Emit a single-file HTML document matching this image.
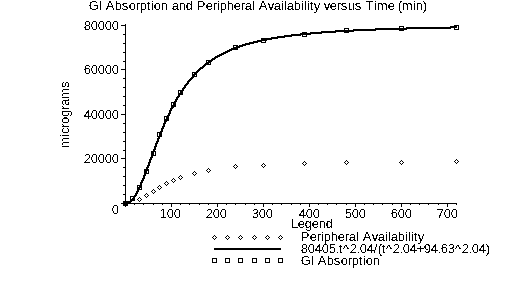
<!DOCTYPE html>
<html><head><meta charset="utf-8"><title>GI Absorption and Peripheral Availability versus Time (min)</title>
<style>
html,body{margin:0;padding:0;background:#fff;}
body{width:515px;height:285px;overflow:hidden;}
svg{display:block;}
</style></head><body>
<svg width="515" height="285" viewBox="0 0 515 285">
<defs><filter id="thr" x="0" y="0" width="515" height="285" filterUnits="userSpaceOnUse" color-interpolation-filters="sRGB"><feComponentTransfer><feFuncA type="discrete" tableValues="0 1"/></feComponentTransfer></filter></defs>
<rect width="515" height="285" fill="#fff"/>
<g fill="#000" shape-rendering="crispEdges">
<rect x="125" y="24" width="1" height="180"/>
<rect x="125" y="203" width="332" height="1"/>
<rect x="121" y="203" width="4" height="1"/>
<rect x="123" y="194" width="2" height="1"/>
<rect x="123" y="185" width="2" height="1"/>
<rect x="123" y="176" width="2" height="1"/>
<rect x="123" y="167" width="2" height="1"/>
<rect x="121" y="158" width="4" height="1"/>
<rect x="123" y="150" width="2" height="1"/>
<rect x="123" y="141" width="2" height="1"/>
<rect x="123" y="132" width="2" height="1"/>
<rect x="123" y="123" width="2" height="1"/>
<rect x="121" y="114" width="4" height="1"/>
<rect x="123" y="105" width="2" height="1"/>
<rect x="123" y="96" width="2" height="1"/>
<rect x="123" y="87" width="2" height="1"/>
<rect x="123" y="78" width="2" height="1"/>
<rect x="121" y="69" width="4" height="1"/>
<rect x="123" y="61" width="2" height="1"/>
<rect x="123" y="52" width="2" height="1"/>
<rect x="123" y="43" width="2" height="1"/>
<rect x="123" y="34" width="2" height="1"/>
<rect x="121" y="25" width="4" height="1"/>
<rect x="125" y="204" width="1" height="3"/>
<rect x="134" y="204" width="1" height="1"/>
<rect x="143" y="204" width="1" height="1"/>
<rect x="153" y="204" width="1" height="1"/>
<rect x="162" y="204" width="1" height="1"/>
<rect x="171" y="204" width="1" height="3"/>
<rect x="180" y="204" width="1" height="1"/>
<rect x="189" y="204" width="1" height="1"/>
<rect x="199" y="204" width="1" height="1"/>
<rect x="208" y="204" width="1" height="1"/>
<rect x="217" y="204" width="1" height="3"/>
<rect x="226" y="204" width="1" height="1"/>
<rect x="235" y="204" width="1" height="1"/>
<rect x="245" y="204" width="1" height="1"/>
<rect x="254" y="204" width="1" height="1"/>
<rect x="263" y="204" width="1" height="3"/>
<rect x="272" y="204" width="1" height="1"/>
<rect x="281" y="204" width="1" height="1"/>
<rect x="291" y="204" width="1" height="1"/>
<rect x="300" y="204" width="1" height="1"/>
<rect x="309" y="204" width="1" height="3"/>
<rect x="318" y="204" width="1" height="1"/>
<rect x="327" y="204" width="1" height="1"/>
<rect x="336" y="204" width="1" height="1"/>
<rect x="346" y="204" width="1" height="1"/>
<rect x="355" y="204" width="1" height="3"/>
<rect x="364" y="204" width="1" height="1"/>
<rect x="373" y="204" width="1" height="1"/>
<rect x="382" y="204" width="1" height="1"/>
<rect x="392" y="204" width="1" height="1"/>
<rect x="401" y="204" width="1" height="3"/>
<rect x="410" y="204" width="1" height="1"/>
<rect x="419" y="204" width="1" height="1"/>
<rect x="428" y="204" width="1" height="1"/>
<rect x="438" y="204" width="1" height="1"/>
<rect x="447" y="204" width="1" height="3"/>
<rect x="456" y="204" width="1" height="1"/>
</g>
<path fill="#000" shape-rendering="crispEdges" d="M450 26h7v1h-7zM406 27h51v1h-51zM375 28h76v1h-76zM353 29h54v1h-54zM335 30h41v1h-41zM321 31h33v1h-33zM310 32h26v1h-26zM300 33h22v1h-22zM291 34h20v1h-20zM284 35h17v1h-17zM277 36h15v1h-15zM271 37h14v1h-14zM266 38h12v1h-12zM261 39h11v1h-11zM257 40h10v1h-10zM253 41h9v1h-9zM249 42h9v1h-9zM245 43h9v1h-9zM242 44h8v1h-8zM239 45h7v1h-7zM236 46h7v1h-7zM234 47h6v1h-6zM231 48h6v1h-6zM229 49h6v1h-6zM227 50h5v1h-5zM225 51h5v1h-5zM223 52h5v1h-5zM221 53h5v1h-5zM219 54h5v1h-5zM217 55h5v1h-5zM215 56h5v1h-5zM214 57h4v1h-4zM212 58h4v1h-4zM211 59h4v1h-4zM209 60h4v1h-4zM208 61h4v1h-4zM206 62h4v1h-4zM205 63h4v1h-4zM204 64h3v1h-3zM203 65h3v1h-3zM202 66h3v1h-3zM200 67h4v1h-4zM199 68h4v1h-4zM198 69h3v1h-3zM197 70h3v1h-3zM196 71h3v1h-3zM195 72h3v1h-3zM194 73h3v1h-3zM193 74h3v1h-3zM192 75h3v1h-3zM192 76h2v1h-2zM191 77h3v1h-3zM190 78h3v1h-3zM189 79h3v1h-3zM188 80h3v1h-3zM187 81h3v1h-3zM187 82h2v1h-2zM186 83h3v1h-3zM185 84h3v1h-3zM184 85h3v1h-3zM184 86h2v1h-2zM183 87h3v1h-3zM182 88h3v1h-3zM182 89h2v1h-2zM181 90h3v1h-3zM180 91h3v1h-3zM180 92h2v1h-2zM179 93h3v1h-3zM178 94h3v1h-3zM178 95h2v1h-2zM177 96h3v1h-3zM176 97h3v1h-3zM176 98h2v1h-2zM175 99h3v1h-3zM175 100h2v1h-2zM174 101h3v1h-3zM174 102h2v1h-2zM173 103h3v1h-3zM173 104h2v1h-2zM172 105h3v1h-3zM172 106h2v1h-2zM171 107h3v1h-3zM170 108h3v1h-3zM170 109h2v1h-2zM169 110h3v1h-3zM169 111h2v1h-2zM169 112h2v1h-2zM168 113h3v1h-3zM168 114h2v1h-2zM167 115h3v1h-3zM167 116h2v1h-2zM166 117h3v1h-3zM166 118h2v1h-2zM165 119h3v1h-3zM165 120h2v1h-2zM164 121h3v1h-3zM164 122h2v1h-2zM163 123h3v1h-3zM163 124h2v1h-2zM163 125h2v1h-2zM162 126h3v1h-3zM162 127h2v1h-2zM161 128h3v1h-3zM161 129h2v1h-2zM161 130h2v1h-2zM160 131h3v1h-3zM160 132h2v1h-2zM159 133h3v1h-3zM159 134h2v1h-2zM159 135h2v1h-2zM158 136h3v1h-3zM158 137h2v1h-2zM157 138h3v1h-3zM157 139h2v1h-2zM157 140h2v1h-2zM156 141h3v1h-3zM156 142h2v1h-2zM155 143h3v1h-3zM155 144h2v1h-2zM155 145h2v1h-2zM154 146h3v1h-3zM154 147h2v1h-2zM154 148h2v1h-2zM153 149h3v1h-3zM153 150h2v1h-2zM152 151h3v1h-3zM152 152h2v1h-2zM152 153h2v1h-2zM151 154h3v1h-3zM151 155h2v1h-2zM151 156h2v1h-2zM150 157h3v1h-3zM150 158h2v1h-2zM149 159h3v1h-3zM149 160h2v1h-2zM149 161h2v1h-2zM148 162h3v1h-3zM148 163h2v1h-2zM148 164h2v1h-2zM147 165h3v1h-3zM147 166h2v1h-2zM146 167h3v1h-3zM146 168h2v1h-2zM146 169h2v1h-2zM145 170h3v1h-3zM145 171h2v1h-2zM145 172h2v1h-2zM144 173h3v1h-3zM144 174h2v1h-2zM143 175h3v1h-3zM143 176h2v1h-2zM143 177h2v1h-2zM142 178h3v1h-3zM142 179h2v1h-2zM141 180h3v1h-3zM141 181h2v1h-2zM140 182h3v1h-3zM140 183h2v1h-2zM140 184h2v1h-2zM139 185h3v1h-3zM139 186h2v1h-2zM138 187h3v1h-3zM138 188h2v1h-2zM137 189h3v1h-3zM137 190h2v1h-2zM136 191h3v1h-3zM136 192h2v1h-2zM135 193h3v1h-3zM135 194h2v1h-2zM134 195h3v1h-3zM133 196h3v1h-3zM133 197h2v1h-2zM132 198h3v1h-3zM131 199h3v1h-3zM130 200h3v1h-3zM128 201h4v1h-4zM125 202h6v1h-6zM125 203h4v1h-4zM125 204h1v1h-1z"/>
<g fill="none" stroke="#000" stroke-width="1">
<rect x="123.5" y="201.5" width="4" height="4"/>
<rect x="130.5" y="196.5" width="4" height="4"/>
<rect x="137.5" y="185.5" width="4" height="4"/>
<rect x="144.5" y="169.5" width="4" height="4"/>
<rect x="151.5" y="151.5" width="4" height="4"/>
<rect x="157.5" y="132.5" width="4" height="4"/>
<rect x="164.5" y="116.5" width="4" height="4"/>
<rect x="171.5" y="102.5" width="4" height="4"/>
<rect x="178.5" y="90.5" width="4" height="4"/>
<rect x="192.5" y="72.5" width="4" height="4"/>
<rect x="206.5" y="60.5" width="4" height="4"/>
<rect x="233.5" y="45.5" width="4" height="4"/>
<rect x="261.5" y="38.5" width="4" height="4"/>
<rect x="302.5" y="32.5" width="4" height="4"/>
<rect x="344.5" y="28.5" width="4" height="4"/>
<rect x="399.5" y="26.5" width="4" height="4"/>
<rect x="454.5" y="25.5" width="4" height="4"/>
<path stroke="none" fill="#000" shape-rendering="crispEdges" d="M125 201h1v1h-1zM124 202h1v1h-1zM126 202h1v1h-1zM123 203h1v1h-1zM127 203h1v1h-1zM124 204h1v1h-1zM126 204h1v1h-1zM125 205h1v1h-1z"/>
<path stroke="none" fill="#000" shape-rendering="crispEdges" d="M139 197h1v1h-1zM138 198h1v1h-1zM140 198h1v1h-1zM137 199h1v1h-1zM141 199h1v1h-1zM138 200h1v1h-1zM140 200h1v1h-1zM139 201h1v1h-1z"/>
<path stroke="none" fill="#000" shape-rendering="crispEdges" d="M146 193h1v1h-1zM145 194h1v1h-1zM147 194h1v1h-1zM144 195h1v1h-1zM148 195h1v1h-1zM145 196h1v1h-1zM147 196h1v1h-1zM146 197h1v1h-1z"/>
<path stroke="none" fill="#000" shape-rendering="crispEdges" d="M153 189h1v1h-1zM152 190h1v1h-1zM154 190h1v1h-1zM151 191h1v1h-1zM155 191h1v1h-1zM152 192h1v1h-1zM154 192h1v1h-1zM153 193h1v1h-1z"/>
<path stroke="none" fill="#000" shape-rendering="crispEdges" d="M159 185h1v1h-1zM158 186h1v1h-1zM160 186h1v1h-1zM157 187h1v1h-1zM161 187h1v1h-1zM158 188h1v1h-1zM160 188h1v1h-1zM159 189h1v1h-1z"/>
<path stroke="none" fill="#000" shape-rendering="crispEdges" d="M166 181h1v1h-1zM165 182h1v1h-1zM167 182h1v1h-1zM164 183h1v1h-1zM168 183h1v1h-1zM165 184h1v1h-1zM167 184h1v1h-1zM166 185h1v1h-1z"/>
<path stroke="none" fill="#000" shape-rendering="crispEdges" d="M173 178h1v1h-1zM172 179h1v1h-1zM174 179h1v1h-1zM171 180h1v1h-1zM175 180h1v1h-1zM172 181h1v1h-1zM174 181h1v1h-1zM173 182h1v1h-1z"/>
<path stroke="none" fill="#000" shape-rendering="crispEdges" d="M180 175h1v1h-1zM179 176h1v1h-1zM181 176h1v1h-1zM178 177h1v1h-1zM182 177h1v1h-1zM179 178h1v1h-1zM181 178h1v1h-1zM180 179h1v1h-1z"/>
<path stroke="none" fill="#000" shape-rendering="crispEdges" d="M194 171h1v1h-1zM193 172h1v1h-1zM195 172h1v1h-1zM192 173h1v1h-1zM196 173h1v1h-1zM193 174h1v1h-1zM195 174h1v1h-1zM194 175h1v1h-1z"/>
<path stroke="none" fill="#000" shape-rendering="crispEdges" d="M208 168h1v1h-1zM207 169h1v1h-1zM209 169h1v1h-1zM206 170h1v1h-1zM210 170h1v1h-1zM207 171h1v1h-1zM209 171h1v1h-1zM208 172h1v1h-1z"/>
<path stroke="none" fill="#000" shape-rendering="crispEdges" d="M235 164h1v1h-1zM234 165h1v1h-1zM236 165h1v1h-1zM233 166h1v1h-1zM237 166h1v1h-1zM234 167h1v1h-1zM236 167h1v1h-1zM235 168h1v1h-1z"/>
<path stroke="none" fill="#000" shape-rendering="crispEdges" d="M263 163h1v1h-1zM262 164h1v1h-1zM264 164h1v1h-1zM261 165h1v1h-1zM265 165h1v1h-1zM262 166h1v1h-1zM264 166h1v1h-1zM263 167h1v1h-1z"/>
<path stroke="none" fill="#000" shape-rendering="crispEdges" d="M304 161h1v1h-1zM303 162h1v1h-1zM305 162h1v1h-1zM302 163h1v1h-1zM306 163h1v1h-1zM303 164h1v1h-1zM305 164h1v1h-1zM304 165h1v1h-1z"/>
<path stroke="none" fill="#000" shape-rendering="crispEdges" d="M346 160h1v1h-1zM345 161h1v1h-1zM347 161h1v1h-1zM344 162h1v1h-1zM348 162h1v1h-1zM345 163h1v1h-1zM347 163h1v1h-1zM346 164h1v1h-1z"/>
<path stroke="none" fill="#000" shape-rendering="crispEdges" d="M401 160h1v1h-1zM400 161h1v1h-1zM402 161h1v1h-1zM399 162h1v1h-1zM403 162h1v1h-1zM400 163h1v1h-1zM402 163h1v1h-1zM401 164h1v1h-1z"/>
<path stroke="none" fill="#000" shape-rendering="crispEdges" d="M456 159h1v1h-1zM455 160h1v1h-1zM457 160h1v1h-1zM454 161h1v1h-1zM458 161h1v1h-1zM455 162h1v1h-1zM457 162h1v1h-1zM456 163h1v1h-1z"/>
<path stroke="none" fill="#000" shape-rendering="crispEdges" d="M214 235h1v1h-1zM213 236h1v1h-1zM215 236h1v1h-1zM212 237h1v1h-1zM216 237h1v1h-1zM213 238h1v1h-1zM215 238h1v1h-1zM214 239h1v1h-1z"/>
<rect x="212.5" y="258.5" width="4" height="4"/>
<path stroke="none" fill="#000" shape-rendering="crispEdges" d="M227 235h1v1h-1zM226 236h1v1h-1zM228 236h1v1h-1zM225 237h1v1h-1zM229 237h1v1h-1zM226 238h1v1h-1zM228 238h1v1h-1zM227 239h1v1h-1z"/>
<rect x="225.5" y="258.5" width="4" height="4"/>
<path stroke="none" fill="#000" shape-rendering="crispEdges" d="M240 235h1v1h-1zM239 236h1v1h-1zM241 236h1v1h-1zM238 237h1v1h-1zM242 237h1v1h-1zM239 238h1v1h-1zM241 238h1v1h-1zM240 239h1v1h-1z"/>
<rect x="238.5" y="258.5" width="4" height="4"/>
<path stroke="none" fill="#000" shape-rendering="crispEdges" d="M254 235h1v1h-1zM253 236h1v1h-1zM255 236h1v1h-1zM252 237h1v1h-1zM256 237h1v1h-1zM253 238h1v1h-1zM255 238h1v1h-1zM254 239h1v1h-1z"/>
<rect x="252.5" y="258.5" width="4" height="4"/>
<path stroke="none" fill="#000" shape-rendering="crispEdges" d="M267 235h1v1h-1zM266 236h1v1h-1zM268 236h1v1h-1zM265 237h1v1h-1zM269 237h1v1h-1zM266 238h1v1h-1zM268 238h1v1h-1zM267 239h1v1h-1z"/>
<rect x="265.5" y="258.5" width="4" height="4"/>
<path stroke="none" fill="#000" shape-rendering="crispEdges" d="M280 235h1v1h-1zM279 236h1v1h-1zM281 236h1v1h-1zM278 237h1v1h-1zM282 237h1v1h-1zM279 238h1v1h-1zM281 238h1v1h-1zM280 239h1v1h-1z"/>
<rect x="278.5" y="258.5" width="4" height="4"/>
</g>
<rect x="214" y="248" width="67" height="2" fill="#000" shape-rendering="crispEdges"/>
<g font-family="'Liberation Sans', Arial, sans-serif" font-size="13" fill="#000" filter="url(#thr)" style="white-space:pre">
<text x="88.75 98.75 101.75 105.75 114.75 121.75 128.75 135.75 139.75 146.75 150.75 153.75 160.75 167.75 171.75 178.75 185.75 192.75 196.75 205.75 212.75 216.75 219.75 226.75 233.75 240.75 244.75 251.75 254.75 258.75 267.75 273.75 280.75 283.75 286.75 293.75 300.75 303.75 306.75 309.75 313.75 319.75 323.75 329.75 336.75 340.75 347.75 354.75 361.75 365.75 373.75 376.75 387.75 394.75 397.75 401.75 412.75 415.75 422.75" y="10">GI Absorption and Peripheral Availability versus Time (min)</text>
<text x="83.75 90.75 97.75 104.75 111.75" y="30">80000</text>
<text x="83.75 90.75 97.75 104.75 111.75" y="74">60000</text>
<text x="83.75 90.75 97.75 104.75 111.75" y="119">40000</text>
<text x="83.75 90.75 97.75 104.75 111.75" y="163">20000</text>
<text x="111.75" y="214">0</text>
<text x="159.75 166.75 173.75" y="218">100</text>
<text x="205.75 212.75 219.75" y="218">200</text>
<text x="251.75 258.75 265.75" y="218">300</text>
<text x="298.75 305.75 312.75" y="218">400</text>
<text x="344.75 351.75 358.75" y="218">500</text>
<text x="390.75 397.75 404.75" y="218">600</text>
<text x="436.75 443.75 450.75" y="218">700</text>
<text x="290.75 297.75 304.75 311.75 318.75 325.75" y="228">Legend</text>
<text x="300.75 309.75 316.75 320.75 323.75 330.75 337.75 344.75 348.75 355.75 358.75 362.75 371.75 377.75 384.75 387.75 390.75 397.75 404.75 407.75 410.75 413.75 417.75" y="241">Peripheral Availability</text>
<text x="300.75 307.75 314.75 321.75 328.75 335.75 338.75 342.75 349.75 356.75 359.75 366.75 373.75 377.75 381.75 385.75 392.75 399.75 402.75 409.75 416.75 423.75 430.75 437.75 440.75 447.75 454.75 461.75 468.75 471.75 478.75 485.75" y="253">80405.t^2.04/(t^2.04+94.63^2.04)</text>
<text x="300.75 310.75 313.75 317.75 326.75 333.75 340.75 347.75 351.75 358.75 362.75 365.75 372.75" y="265">GI Absorption</text>
<text transform="translate(69 148) rotate(-90)" x="0 11 14 20 24 31 38 42 49 60" y="0">micrograms</text>
</g>
</svg>
</body></html>
